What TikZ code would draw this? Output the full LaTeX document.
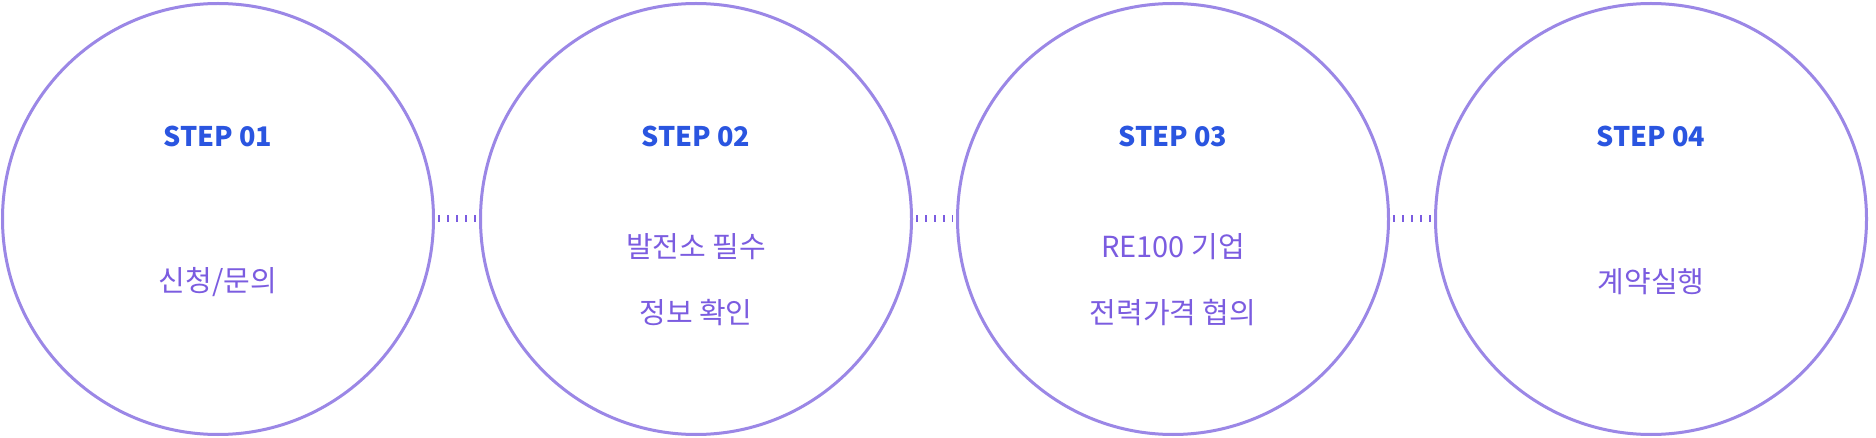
\documentclass[tikz,border=0pt]{standalone}
\usepackage{fontspec}
\setmainfont{Noto Sans CJK KR}
\definecolor{ring}{HTML}{9B87E6}
\definecolor{stepc}{HTML}{2A55E0}
\definecolor{txtc}{HTML}{7B5CE0}
\begin{document}
\begin{tikzpicture}[x=1pt,y=-1pt,
  ringc/.style={circle,draw=ring,line width=3pt,minimum size=431pt,inner sep=0pt},
  steplbl/.style={text=stepc,font=\fontsize{27}{30}\selectfont\bfseries},
  body/.style={text=txtc,font=\fontsize{29}{66}\selectfont,align=center},
  tick/.style={draw=txtc,line width=7pt,dash pattern=on 2pt off 7pt}]
\useasboundingbox (0,0) rectangle (1876,438);
\fill[white] (0,0) rectangle (1876,438);
\foreach \i/\x in {1/218,2/696,3/1173,4/1651}{
  \node[ringc] (c\i) at (\x,219) {};
  \coordinate (s\i) at (\x,136);
}
\node[steplbl] (t1) at (s1) {STEP 01};
\node[steplbl] (t2) at (s2) {STEP 02};
\node[steplbl] (t3) at (s3) {STEP 03};
\node[steplbl] (t4) at (s4) {STEP 04};
\node[body] (b1) at (218,282) {신청/문의};
\node[body] (b2) at (696,280) {발전소 필수\\정보 확인};
\node[body] (b3) at (1173,280) {RE100 기업\\전력가격 협의};
\node[body] (b4) at (1651,282) {계약실행};
\foreach \a/\b in {c1/c2,c2/c3,c3/c4}{
  \draw[tick] ([xshift=3pt]\a.east) -- ([xshift=-3pt]\b.west);
}
\end{tikzpicture}
\end{document}
